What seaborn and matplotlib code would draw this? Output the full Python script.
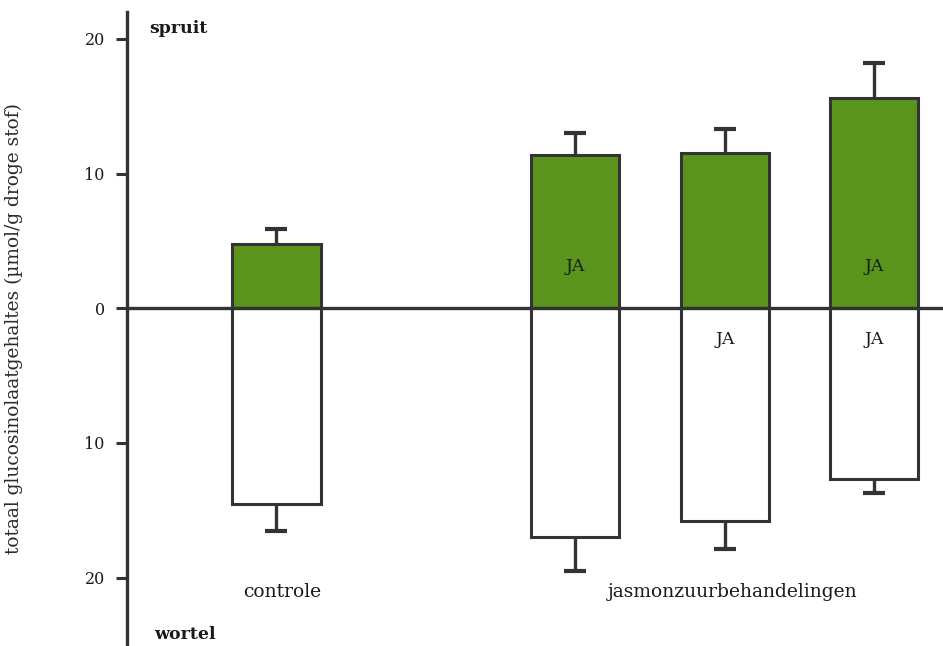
import seaborn as sns
import matplotlib.pyplot as plt
import pandas as pd

# values (µmol/g droge stof)
groepen = ["controle", "JA 1", "JA 2", "JA 3"]
xpos = [0, 2, 3, 4]
spruit = [4.8, 11.4, 11.5, 15.6]
spruit_err = [1.1, 1.6, 1.8, 2.6]
wortel = [14.5, 17.0, 15.8, 12.7]
wortel_err = [2.0, 2.5, 2.05, 1.05]
ja_spruit = [False, True, False, True]
ja_wortel = [False, False, True, True]

groen = "#5a941c"
donker = "#333333"
tekst = "#1a1a1a"

df = pd.DataFrame({"x": xpos, "groep": groepen, "spruit": spruit,
                   "wortel": [-w for w in wortel]})
df["spruit_top"] = df["spruit"] + spruit_err
df["wortel_top"] = df["wortel"] - pd.Series(wortel_err)

sns.set_style("white")
plt.rcParams["font.family"] = ["DejaVu Serif"]
plt.rcParams["text.color"] = tekst
plt.rcParams["ytick.color"] = tekst

fig = plt.figure(figsize=(9.43, 6.46), dpi=100)
ax = fig.add_axes([127 / 943, 1 / 646, 1 - 127 / 943, 1 - 13 / 646])

sns.barplot(data=df, x="x", y="spruit", native_scale=True, width=0.59,
            color=groen, saturation=1, edgecolor=donker, linewidth=2.2,
            errorbar=None, ax=ax, zorder=3)
sns.barplot(data=df, x="x", y="wortel", native_scale=True, width=0.59,
            color="white", saturation=1, edgecolor=donker, linewidth=2.2,
            errorbar=None, ax=ax, zorder=3)

# one-sided error bars: stem + cap on the outer end only
ax.vlines(df["x"], df["spruit"], df["spruit_top"], color=donker, lw=2.4, zorder=2)
ax.vlines(df["x"], df["wortel"], df["wortel_top"], color=donker, lw=2.4, zorder=2)
ax.plot(df["x"], df["spruit_top"], ls="none", marker="_", ms=16, mew=3, color=donker)
ax.plot(df["x"], df["wortel_top"], ls="none", marker="_", ms=16, mew=3, color=donker)

ax.axhline(0, color=donker, lw=2.4, zorder=4)

for x, j in zip(xpos, ja_spruit):
    if j:
        ax.text(x, 3.1, "JA", ha="center", va="center", fontsize=12.5, zorder=5)
for x, j in zip(xpos, ja_wortel):
    if j:
        ax.text(x, -2.3, "JA", ha="center", va="center", fontsize=12.5, zorder=5)

ax.text(0.04, -21.1, "controle", ha="center", va="center", fontsize=13.5)
ax.text(3.05, -21.1, "jasmonzuurbehandelingen", ha="center", va="center",
        fontsize=13.5)
ax.text(-0.85, 20.8, "spruit", ha="left", va="center", fontsize=12.5,
        fontweight="bold")
ax.text(-0.82, -24.2, "wortel", ha="left", va="center", fontsize=12.5,
        fontweight="bold")

ax.set_xlim(-1.0, 4.46)
ax.set_ylim(-25, 22)
ax.set_xticks([])
ax.set_yticks([-20, -10, 0, 10, 20])
ax.set_yticklabels(["20", "10", "0", "10", "20"], fontsize=11.5)
ax.set_xlabel("")
ax.set_ylabel("totaal glucosinolaatgehaltes (µmol/g droge stof)", fontsize=13.4,
              color="#2a2a2a")
ax.yaxis.set_label_coords(-0.128, 0.5)
ax.tick_params(axis="y", direction="out", length=8, width=2.2, color=donker,
               left=True, pad=8)

for s in ["top", "right", "bottom"]:
    ax.spines[s].set_visible(False)
ax.spines["left"].set_color(donker)
ax.spines["left"].set_linewidth(2.4)

fig.savefig("out.png", dpi=100)
